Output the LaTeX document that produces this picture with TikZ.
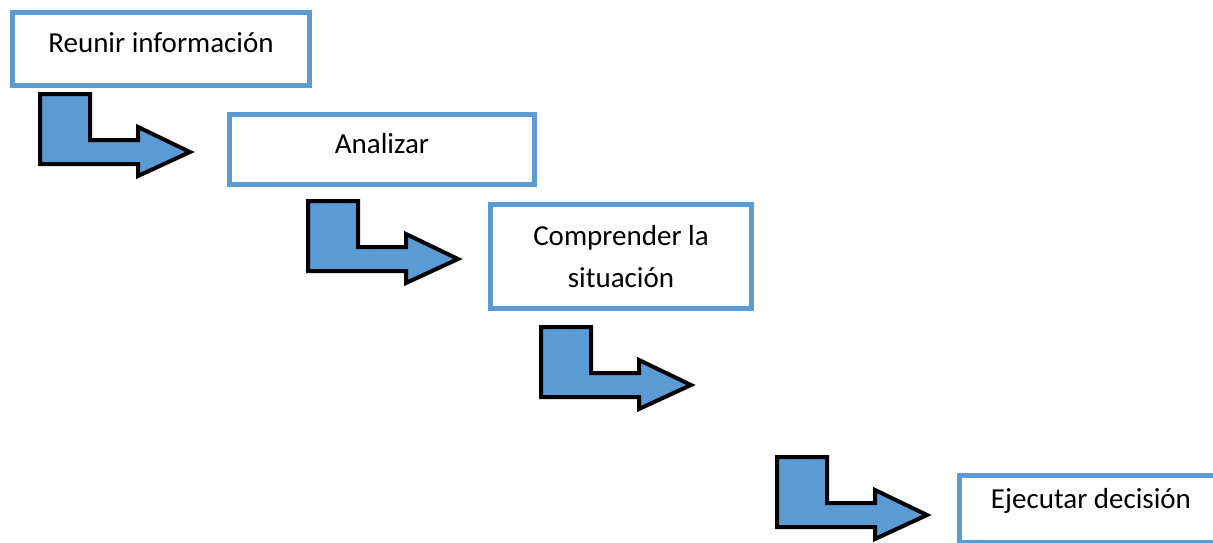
\documentclass[tikz,border=0pt]{standalone}
\usepackage{fontspec}
\setmainfont{Carlito}
\usepackage{xcolor}
\definecolor{boxblue}{RGB}{91,155,213}

\begin{document}
\begin{tikzpicture}[
			x=1pt, y=-1pt,
			every node/.style={draw=boxblue, line width=5pt, fill=white, inner sep=0pt,
					align=center, font=\fontsize{29}{42}\selectfont},
			oneline/.style={text height=20pt, text depth=12pt},
			stepshape/.style={draw=black, line width=4pt, fill=boxblue, line join=miter}
		]
		\useasboundingbox (0,0) rectangle (1213,543);
		\clip (0,0) rectangle (1213,543);

		% --- Steps ---
		\node[oneline, minimum width=297pt, minimum height=73pt] (reunir) at (161,49) {Reunir información};
		\node[oneline, minimum width=305pt, minimum height=70pt] (analizar) at (382,149.5) {Analizar};
		\node[minimum width=261pt, minimum height=104pt] (comprender) at (621,256.5) {Comprender la\\situación};
		\node[text height=20pt, text depth=22pt, minimum width=263pt, minimum height=67pt] (ejecutar) at (1091,509) {Ejecutar decisión};

		% --- Bent arrows ---
		\foreach \x/\y in {38/92, 306/199, 539/325, 775/455} {
				\draw[stepshape, shift={(\x,\y)}]
				(2,2) -- (52,2) -- (52,48) -- (100,48) -- (100,35) -- (152,60)
				-- (100,84) -- (100,72) -- (2,72) -- cycle;
			}

	\end{tikzpicture}
\end{document}
